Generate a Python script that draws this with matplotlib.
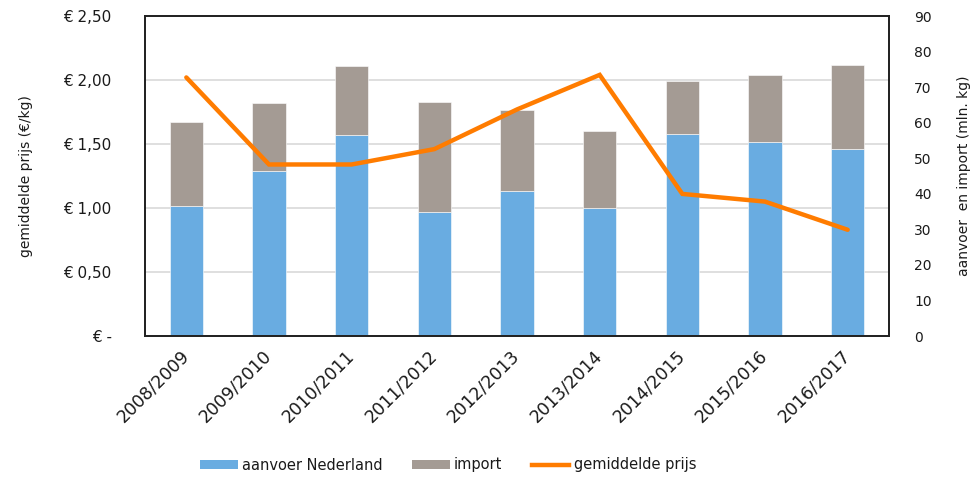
import matplotlib

matplotlib.use("Agg")

import matplotlib.pyplot as plt
import numpy as np
from matplotlib.patches import Patch
from matplotlib.lines import Line2D

# data
seasons = ["2008/2009", "2009/2010", "2010/2011", "2011/2012", "2012/2013",
           "2013/2014", "2014/2015", "2015/2016", "2016/2017"]
aanvoer_nl = [36.6, 46.3, 56.5, 35.0, 40.7, 36.1, 56.7, 54.5, 52.5]       # mln kg
totaal = [60.3, 65.4, 75.9, 65.8, 63.7, 57.6, 71.6, 73.4, 76.3]           # mln kg
import_kg = [t - a for t, a in zip(totaal, aanvoer_nl)]
prijs = [2.02, 1.34, 1.34, 1.46, 1.77, 2.04, 1.11, 1.05, 0.83]            # euro/kg

price_ticks = [0, 0.5, 1.0, 1.5, 2.0, 2.5]
price_labels = ["€ -", "€ 0,50", "€ 1,00", "€ 1,50", "€ 2,00", "€ 2,50"]
volume_ticks = list(range(0, 91, 10))

BLUE = "#69ACE1"
GREY = "#A49B94"
ORANGE = "#FF7C00"
GRID = "#D9D9D9"
TEXT = "#1A1A1A"

plt.rcParams["font.family"] = "DejaVu Sans"
plt.rcParams["text.color"] = TEXT
plt.rcParams["xtick.color"] = TEXT
plt.rcParams["ytick.color"] = TEXT
plt.rcParams["axes.labelcolor"] = TEXT

fig = plt.figure(figsize=(9.78, 4.79), dpi=100)
ax_bar = fig.add_axes([145 / 978, 1 - 336 / 479, 744 / 978, 320 / 479])
ax_line = ax_bar.twinx()

x = np.arange(len(seasons))

# stacked bars on the volume scale (right side)
ax_bar.bar(x, aanvoer_nl, width=0.4, color=BLUE, edgecolor="white", linewidth=0.4, zorder=2)
ax_bar.bar(x, import_kg, width=0.4, bottom=aanvoer_nl, color=GREY, edgecolor="white",
           linewidth=0.4, zorder=2)
ax_bar.set_ylim(0, 90)
ax_bar.set_xlim(-0.5, len(seasons) - 0.5)
ax_bar.yaxis.tick_right()
ax_bar.yaxis.set_label_position("right")
ax_bar.set_yticks(volume_ticks)
ax_bar.tick_params(axis="y", length=0, pad=18, labelsize=10)
# gridlines follow the price axis (every 0,50 -> every 18 mln kg)
ax_bar.set_yticks(np.arange(18, 90, 18), minor=True)
ax_bar.tick_params(axis="y", which="minor", length=0)
ax_bar.grid(axis="y", which="minor", color=GRID, linewidth=1.2, zorder=0)
ax_bar.set_axisbelow(True)
ax_bar.set_ylabel("aanvoer  en import (mln. kg)", fontsize=10, labelpad=18)

ax_bar.set_xticks(x)
ax_bar.set_xticklabels(seasons, rotation=45, ha="right", va="center",
                       rotation_mode="anchor", fontsize=12.5)
ax_bar.tick_params(axis="x", length=0, pad=12)

# price line on the left scale, drawn above the bars
ax_line.plot(x, prijs, color=ORANGE, linewidth=3.2, solid_capstyle="round",
             solid_joinstyle="miter", zorder=3)
ax_line.set_ylim(0, 2.5)
ax_line.yaxis.tick_left()
ax_line.yaxis.set_label_position("left")
ax_line.set_yticks(price_ticks)
ax_line.set_yticklabels(price_labels)
ax_line.tick_params(axis="y", length=0, pad=24, labelsize=11)
ax_line.set_ylabel("gemiddelde prijs (€/kg)", fontsize=10, labelpad=22)

for a in (ax_bar, ax_line):
    for s in a.spines.values():
        s.set_color("#222222")
        s.set_linewidth(1.3)

handles = [
    Patch(facecolor=BLUE, label="aanvoer Nederland"),
    Patch(facecolor=GREY, label="import"),
    Line2D([0], [0], color=ORANGE, linewidth=3.2, label="gemiddelde prijs"),
]
fig.legend(handles=handles, loc="center", bbox_to_anchor=(448 / 978, 1 - 465 / 479),
           ncol=3, frameon=False, fontsize=10.5, handlelength=2.6, handleheight=0.6,
           handletextpad=0.3, columnspacing=2.0)

fig.savefig("out.png", dpi=100)
